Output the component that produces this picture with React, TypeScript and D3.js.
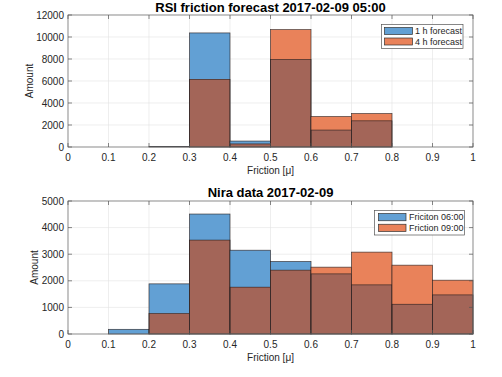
import React from "react";
import * as d3 from "d3";

const binEdges = [0, 0.1, 0.2, 0.3, 0.4, 0.5, 0.6, 0.7, 0.8, 0.9, 1.0];
const xTicks = [0, 0.1, 0.2, 0.3, 0.4, 0.5, 0.6, 0.7, 0.8, 0.9, 1];

const rsi1h = [0, 0, 50, 10370, 540, 7960, 1540, 2380, 0, 0];
const rsi4h = [0, 0, 0, 6150, 280, 10670, 2770, 3040, 0, 0];
const rsiYTicks = [0, 2000, 4000, 6000, 8000, 10000, 12000];

const nira06 = [0, 176, 1885, 4510, 3150, 2726, 2260, 1847, 1118, 1470];
const nira09 = [0, 0, 766, 3530, 1760, 2400, 2513, 3078, 2588, 2023];
const niraYTicks = [0, 1000, 2000, 3000, 4000, 5000];

const BLUE = "rgb(98,160,212)";
const ORANGE = "rgb(233,130,90)";
const BROWN = "rgb(163,101,88)";
const EDGE = "rgba(40,30,30,0.85)";
const FONT = "Liberation Sans, Arial, Helvetica, sans-serif";
const TXT = "#262626";

type PanelProps = {
  top: number;
  bottom: number;
  title: string;
  titleY: number;
  a: number[];
  b: number[];
  yTicks: number[];
  yMax: number;
  legendA: string;
  legendB: string;
  legend: { x: number; y: number; w: number; h: number; px: number; pw: number; tx: number };
  ylabelX: number;
};

function Panel(p: PanelProps) {
  const x = d3.scaleLinear().domain([0, 1]).range([68, 473]);
  const y = d3.scaleLinear().domain([0, p.yMax]).range([p.bottom, p.top]);
  const bins = binEdges.slice(0, -1).map((e, i) => ({ x0: e, x1: binEdges[i + 1], a: p.a[i], b: p.b[i] }));
  const left = x(0), right = x(1);
  const rowH = p.legend.h / 2;
  return (
    <g>
      {xTicks.map((t) => (
        <line key={"gx" + t} x1={x(t)} x2={x(t)} y1={p.top} y2={p.bottom} stroke="#e3e3e3" strokeWidth={0.6} />
      ))}
      {p.yTicks.map((t) => (
        <line key={"gy" + t} x1={left} x2={right} y1={y(t)} y2={y(t)} stroke="#e3e3e3" strokeWidth={0.6} />
      ))}
      {bins.map((d, i) => {
        const lo = Math.min(d.a, d.b);
        const x0 = x(d.x0), w = x(d.x1) - x(d.x0);
        return (
          <g key={"b" + i}>
            {d.a > 0 && <rect x={x0} width={w} y={y(d.a)} height={y(0) - y(d.a)} fill={BLUE} />}
            {d.b > 0 && <rect x={x0} width={w} y={y(d.b)} height={y(0) - y(d.b)} fill={ORANGE} />}
            {lo > 0 && <rect x={x0} width={w} y={y(lo)} height={y(0) - y(lo)} fill={BROWN} />}
            {d.a > 0 && <rect x={x0} width={w} y={y(d.a)} height={y(0) - y(d.a)} fill="none" stroke={EDGE} strokeWidth={0.7} />}
            {d.b > 0 && <rect x={x0} width={w} y={y(d.b)} height={y(0) - y(d.b)} fill="none" stroke={EDGE} strokeWidth={0.7} />}
          </g>
        );
      })}
      <rect x={left} y={p.top} width={right - left} height={p.bottom - p.top} fill="none" stroke="#7a7a7a" strokeWidth={0.8} />
      {xTicks.map((t) => (
        <g key={"tx" + t}>
          <line x1={x(t)} x2={x(t)} y1={p.bottom} y2={p.bottom - 4} stroke="#555" strokeWidth={0.7} />
          <line x1={x(t)} x2={x(t)} y1={p.top} y2={p.top + 4} stroke="#555" strokeWidth={0.7} />
          <text x={x(t)} y={p.bottom + 14} textAnchor="middle" fontSize={10} fill={TXT} fontFamily={FONT}>
            {String(t)}
          </text>
        </g>
      ))}
      {p.yTicks.map((t) => (
        <g key={"ty" + t}>
          <line x1={left} x2={left + 4} y1={y(t)} y2={y(t)} stroke="#555" strokeWidth={0.7} />
          <line x1={right} x2={right - 4} y1={y(t)} y2={y(t)} stroke="#555" strokeWidth={0.7} />
          <text x={left - 4} y={y(t) + 3.5} textAnchor="end" fontSize={10} fill={TXT} fontFamily={FONT}>
            {String(t)}
          </text>
        </g>
      ))}
      <text x={(left + right) / 2} y={p.titleY} textAnchor="middle" fontSize={13} fontWeight="bold" fill="#000" fontFamily={FONT}>
        {p.title}
      </text>
      <text x={(left + right) / 2} y={p.bottom + 27} textAnchor="middle" fontSize={10} fill={TXT} fontFamily={FONT}>
        Friction [μ]
      </text>
      <text
        transform={`translate(${p.ylabelX},${(p.top + p.bottom) / 2}) rotate(-90)`}
        textAnchor="middle"
        fontSize={10}
        fill={TXT}
        fontFamily={FONT}
      >
        Amount
      </text>
      <rect x={p.legend.x} y={p.legend.y} width={p.legend.w} height={p.legend.h} fill="#fff" stroke="#555" strokeWidth={0.7} />
      {[{ c: BLUE, t: p.legendA }, { c: ORANGE, t: p.legendB }].map((it, i) => (
        <g key={"lg" + i}>
          <rect
            x={p.legend.px}
            y={p.legend.y + 3 + i * (rowH - 1.5)}
            width={p.legend.pw}
            height={rowH - 5}
            fill={it.c}
            stroke="#333"
            strokeWidth={0.7}
          />
          <text x={p.legend.tx} y={p.legend.y + 3 + i * (rowH - 1.5) + (rowH - 5) / 2 + 3.2} fontSize={9} fill={TXT} fontFamily={FONT}>
            {it.t}
          </text>
        </g>
      ))}
    </g>
  );
}

export default function App() {
  return (
    <svg width={502} height={377} style={{ display: "block", position: "absolute", left: 0, top: 0, background: "#fff" }}>
      <rect width={502} height={377} fill="#fff" />
      <Panel
        top={15}
        bottom={147}
        title="RSI friction forecast 2017-02-09 05:00"
        titleY={11.5}
        a={rsi1h}
        b={rsi4h}
        yTicks={rsiYTicks}
        yMax={12000}
        legendA="1 h forecast"
        legendB="4 h forecast"
        legend={{ x: 381.5, y: 24.5, w: 81.5, h: 24, px: 384.5, pw: 28, tx: 415 }}
        ylabelX={33}
      />
      <Panel
        top={201}
        bottom={334}
        title="Nira data 2017-02-09"
        titleY={197}
        a={nira06}
        b={nira09}
        yTicks={niraYTicks}
        yMax={5000}
        legendA="Friciton 06:00"
        legendB="Friction 09:00"
        legend={{ x: 374.5, y: 210.5, w: 90, h: 24.5, px: 378.5, pw: 27.5, tx: 409 }}
        ylabelX={38}
      />
    </svg>
  );
}
